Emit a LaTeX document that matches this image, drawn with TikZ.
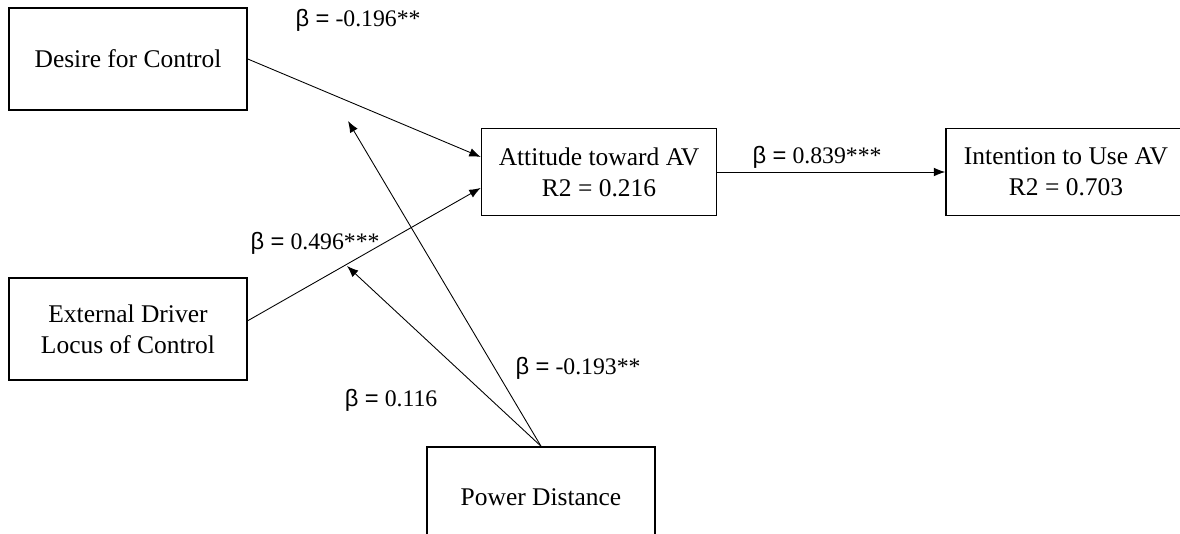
\documentclass[tikz,border=0pt]{standalone}
\usepackage{fontspec}
\setmainfont{Liberation Serif}
\newfontfamily\betafont{Liberation Sans}
\usetikzlibrary{arrows.meta,calc}
\begin{document}
\begin{tikzpicture}[x=0.02cm,y=-0.02cm,
  box/.style={draw, line width=0.9pt, inner sep=0pt, align=center, font=\fontsize{14.5}{17.5}\selectfont},
  conn/.style={line width=0.5pt, -{Latex[length=6.5pt,width=5pt]}},
  lab/.style={font=\fontsize{13.5}{17}\selectfont, inner sep=0pt}]
\useasboundingbox (0,0) rectangle (1180,534);
\node[box, minimum width=238*0.02cm, minimum height=102*0.02cm] (desire) at (128,59) {Desire for Control};
\node[box, minimum width=238*0.02cm, minimum height=102*0.02cm] (external) at (128,329) {External Driver\\Locus of Control};
\node[box, minimum width=235*0.02cm, minimum height=87*0.02cm] (attitude) at (599,172) {Attitude toward AV\\R2 = 0.216};
\node[box, minimum width=240*0.02cm, minimum height=87*0.02cm] (intention) at (1066,172) {Intention to Use AV\\R2 = 0.703};
\node[box, minimum width=228*0.02cm, minimum height=100*0.02cm] (power) at (541,497) {Power Distance};
\coordinate (m1) at (348,121);
\coordinate (m2) at (347,266);
\draw[conn] (desire.east) -- ($(attitude.north west)!0.33!(attitude.south west)$);
\draw[conn] ($(external.north east)!0.42!(external.south east)$) -- ($(attitude.north west)!0.68!(attitude.south west)$);
\draw[conn] (attitude.east) -- (intention.west);
\draw[conn] (power.north) -- (m1);
\draw[conn] (power.north) -- (m2);
\node[lab] (l1) at (358,20) {{\betafont β =} -0.196**};
\node[lab] (l2) at (315,243) {{\betafont β =} 0.496***};
\node[lab] (l3) at (817,157) {{\betafont β =} 0.839***};
\node[lab] (l4) at (578,368) {{\betafont β =} -0.193**};
\node[lab] (l5) at (391,400) {{\betafont β =} 0.116};
\end{tikzpicture}
\end{document}
